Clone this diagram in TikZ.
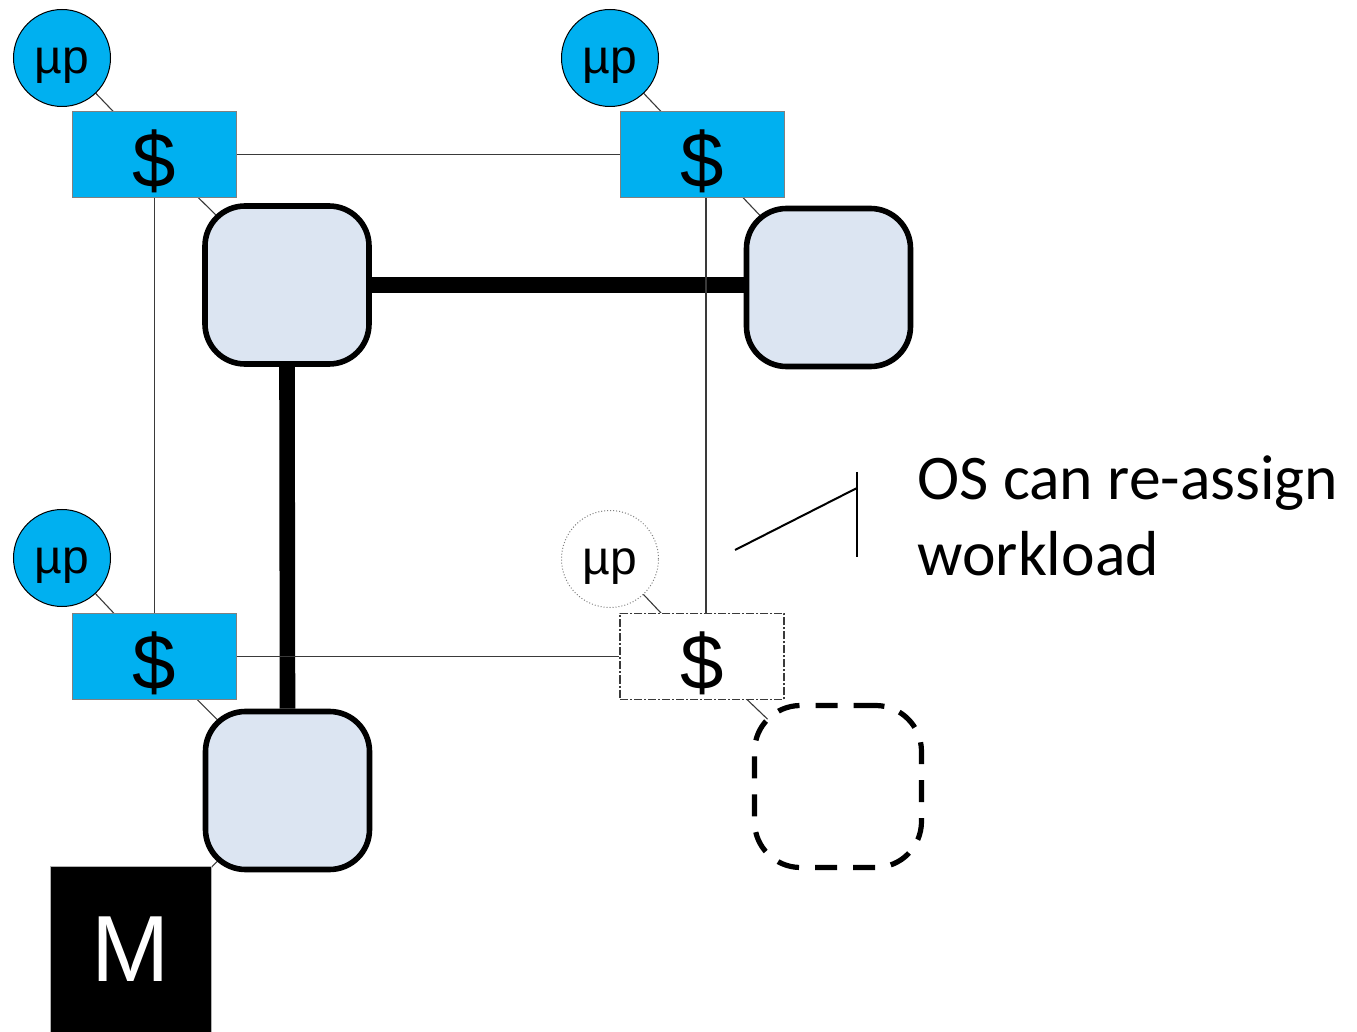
\documentclass[tikz,border=0pt]{standalone}
\usepackage{fontspec}
\setmainfont{Liberation Sans}
\newfontfamily\notefont{Carlito}
\usetikzlibrary{backgrounds}
\definecolor{cpu}{HTML}{00B0F0}
\definecolor{tile}{HTML}{DCE5F2}
\definecolor{wire}{HTML}{3A3A3A}

\begin{document}
\begin{tikzpicture}[x=0.5pt,y=-0.5pt,
  proc/.style={circle,fill=cpu,draw=black,line width=0.5pt,minimum size=48.5pt,
    inner sep=0pt,text height=20.5pt,text depth=5pt,font=\fontsize{24}{28}\selectfont},
  ghostproc/.style={proc,fill=white,draw=gray,densely dotted},
  cachebox/.style={rectangle,fill=cpu,draw=gray,line width=0.5pt,minimum width=82pt,
    minimum height=41pt,inner sep=0pt,text height=38pt,text depth=5pt,
    font=\fontsize{39}{42}\selectfont},
  ghostcache/.style={cachebox,fill=white,draw=wire,line width=0.7pt,
    dash pattern=on 4pt off 1pt on 1pt off 1pt},
  tilebox/.style={rectangle,rounded corners=20pt,fill=tile,draw=black,line width=2.8pt,
    minimum width=82pt,minimum height=79pt,inner sep=0pt},
  ghosttile/.style={tilebox,fill=white,rounded corners=23pt,line width=2.6pt,
    minimum width=83.5pt,minimum height=81pt,dash pattern=on 11pt off 8pt},
  memory/.style={rectangle,fill=black,draw=gray!60,line width=0.5pt,minimum width=80.5pt,
    minimum height=83pt,inner sep=0pt,text=white,font=\fontsize{47}{50}\selectfont},
  thinwire/.style={draw=wire,line width=0.55pt},
  fatwire/.style={draw=black,line width=7.8pt},
  notetext/.style={anchor=base west,inner sep=0pt,font=\notefont\fontsize{31.8}{37.5}\selectfont}
]
\useasboundingbox (0,0) rectangle (1357,1032);

% processors
\node[proc] (mu1) at (62,58) {µp};
\node[proc] (mu2) at (610,58) {µp};
\node[proc] (mu3) at (62,558) {µp};
\node[ghostproc] (mu4) at (610,559) {µp};

% caches
\node[cachebox] (c1) at (154.5,154.5) {\$};
\node[cachebox] (c2) at (702,154.5) {\$};
\node[cachebox] (c3) at (154.5,656.5) {\$};
\node[ghostcache] (c4) at (702,656.5) {\$};

% routers / tiles
\node[tilebox] (s1) at (287,285) {};
\node[tilebox] (s2) at (828.5,287.5) {};
\node[tilebox] (s3) at (287.5,790.5) {};
\node[ghosttile] (s4) at (838,786.5) {};

% memory controller
\node[memory] (mem) at (130.5,949) {M};

\begin{pgfonlayer}{background}
  % local links processor - cache - tile
  \foreach \i in {1,2,3,4}{
    \draw[thinwire] (mu\i.center) -- (c\i.center) -- (s\i.center);
  }
  \draw[thinwire] (mem.center) -- (s3.center);
  % network links
  \draw[fatwire] (s1.east) -- (s1.east -| s2.west);
  \draw[fatwire] (s1.south) -- (s3.north);
\end{pgfonlayer}

% cache interconnect
\draw[thinwire] (c1.east) -- (c2.west);
\draw[thinwire] (c1.south) -- (c3.north);
\draw[thinwire] ([xshift=2pt]c2.south) -- ([xshift=2pt]c4.north);
\draw[thinwire] (c3.east) -- (c4.west);

% callout
\coordinate (tip) at (735,550);
\coordinate (barmid) at (857,488);
\coordinate (bartop) at (857,472);
\coordinate (barbot) at (857,557);
\draw[line width=1pt] (tip) -- (barmid);
\draw[line width=1pt] (bartop) -- (barbot);
\node[notetext] (note1) at (917,500) {OS can re-assign};
\node[notetext] (note2) at (917,575) {workload};
\end{tikzpicture}
\end{document}
